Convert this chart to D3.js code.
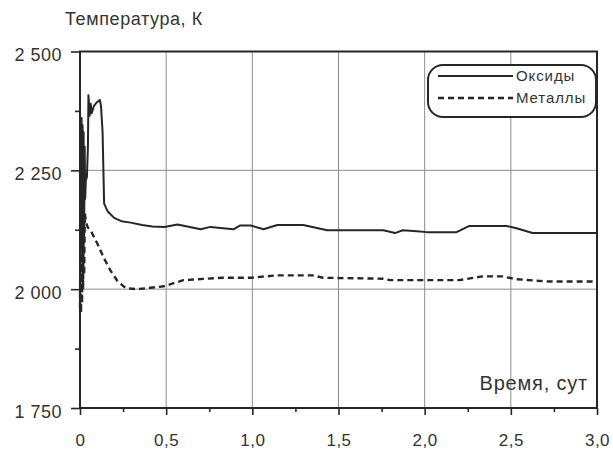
<!DOCTYPE html>
<html>
<head>
<meta charset="utf-8">
<script src="https://cdn.jsdelivr.net/npm/d3@7"></script>
<style>
  html, body { margin: 0; padding: 0; background: #fff; }
  svg { display: block; font-family: "Liberation Sans", Arial, sans-serif; }
</style>
</head>
<body>
<svg id="chart" width="613" height="452"></svg>
<script>
// Time, days
const oxideTime = [0, 0.003, 0.006, 0.009, 0.012, 0.015, 0.018, 0.021, 0.024, 0.027, 0.030, 0.034, 0.040, 0.046, 0.049, 0.056, 0.062, 0.068, 0.080, 0.095, 0.115, 0.122, 0.131, 0.140, 0.160, 0.198, 0.240, 0.295, 0.360, 0.420, 0.490, 0.566, 0.700, 0.757, 0.890, 0.930, 0.990, 1.065, 1.145, 1.295, 1.435, 1.760, 1.828, 1.872, 1.955, 2.012, 2.185, 2.260, 2.475, 2.533, 2.626, 3.000];
// Temperature of oxides, K
const oxideTemp = [2160, 2350, 2120, 2360, 2090, 2345, 2070, 2330, 2110, 2300, 2190, 2230, 2235, 2300, 2408, 2365, 2390, 2370, 2385, 2392, 2398, 2385, 2330, 2180, 2164, 2150, 2143, 2140, 2135, 2132, 2131, 2136, 2126, 2131, 2126, 2134, 2134, 2126, 2135, 2135, 2124, 2124, 2118, 2124, 2122, 2120, 2120, 2133, 2133, 2128, 2118, 2118];

const metalTime = [0, 0.003, 0.006, 0.009, 0.012, 0.015, 0.018, 0.021, 0.024, 0.028, 0.035, 0.045, 0.064, 0.102, 0.139, 0.179, 0.218, 0.266, 0.335, 0.410, 0.486, 0.600, 0.830, 0.990, 1.140, 1.350, 1.410, 1.760, 1.800, 2.200, 2.335, 2.450, 2.530, 2.720, 3.000];
// Temperature of metals, K
const metalTemp = [1960, 2175, 1950, 2170, 1970, 2165, 2000, 2160, 2030, 2160, 2140, 2130, 2122, 2095, 2065, 2038, 2017, 2002, 2000, 2003, 2006, 2019, 2024, 2024, 2029, 2029, 2024, 2022, 2019, 2019, 2027, 2027, 2021, 2016, 2016];

const xTicks = [0, 0.5, 1.0, 1.5, 2.0, 2.5, 3.0];
const xTickLabels = ["0", "0,5", "1,0", "1,5", "2,0", "2,5", "3,0"];
const yTicks = [1750, 2000, 2250, 2500];
const yTickLabels = ["1 750", "2 000", "2 250", "2 500"];
const seriesNames = ["Оксиды", "Металлы"];

const yTitle = "Температура, К";
const xTitle = "Время, сут";

const svg = d3.select("#chart");
const plotL = 80, plotR = 597, plotT = 51.5, plotB = 408;
const ink = "#262626";
const textInk = "#333";

const x = d3.scaleLinear().domain([0, 3]).range([plotL, plotR]);
const y = d3.scaleLinear().domain([1750, 2500]).range([plotB, plotT]);

// Grid
const grid = svg.append("g");
grid.selectAll("line.gx").data(xTicks.slice(1, -1)).join("line")
  .attr("x1", d => x(d)).attr("x2", d => x(d))
  .attr("y1", plotT).attr("y2", plotB)
  .attr("stroke", "#8c8c8c").attr("stroke-width", 1);
grid.selectAll("line.gy").data(yTicks.slice(1, -1)).join("line")
  .attr("x1", plotL).attr("x2", plotR)
  .attr("y1", d => y(d)).attr("y2", d => y(d))
  .attr("stroke", "#8c8c8c").attr("stroke-width", 1);

// Axes
const xAxis = svg.append("g").attr("transform", `translate(0,${plotB})`)
  .call(d3.axisBottom(x).tickValues(xTicks).tickFormat((d, i) => xTickLabels[i]).tickSize(7).tickPadding(19));
const xMinor = svg.append("g").attr("transform", `translate(0,${plotB})`)
  .call(d3.axisBottom(x).tickValues(d3.range(0.25, 3, 0.5)).tickFormat("").tickSize(4));
const yAxis = svg.append("g").attr("transform", `translate(${plotL},0)`)
  .call(d3.axisLeft(y).tickValues(yTicks).tickFormat((d, i) => yTickLabels[i]).tickSize(9).tickPadding(9));
const yMinor = svg.append("g").attr("transform", `translate(${plotL},0)`)
  .call(d3.axisLeft(y).tickValues([1875, 2125, 2375]).tickFormat("").tickSize(5));

[xAxis, xMinor, yAxis, yMinor].forEach(g => {
  g.select(".domain").remove();
  g.selectAll(".tick line").attr("stroke", ink).attr("stroke-width", 1.6);
  g.selectAll(".tick text").attr("fill", textInk).attr("font-size", 18)
    .attr("letter-spacing", 0.5)
    .attr("font-family", "Liberation Sans, Arial, sans-serif");
});
xAxis.selectAll(".tick text").attr("font-size", 17);
yAxis.selectAll(".tick text").attr("dy", "0.5em");

// Frame
svg.append("rect")
  .attr("x", plotL).attr("y", plotT)
  .attr("width", plotR - plotL).attr("height", plotB - plotT)
  .attr("fill", "none").attr("stroke", ink).attr("stroke-width", 2);

// Series
const line = d3.line().x(d => x(d[0])).y(d => y(d[1]));
const oxides = oxideTime.map((t, i) => [t, oxideTemp[i]]);
const metals = metalTime.map((t, i) => [t, metalTemp[i]]);

svg.append("path").datum(metals)
  .attr("d", line).attr("fill", "none")
  .attr("stroke", ink).attr("stroke-width", 2.4)
  .attr("stroke-dasharray", "6,4");
svg.append("path").datum(oxides)
  .attr("d", line).attr("fill", "none")
  .attr("stroke", ink).attr("stroke-width", 2)
  .attr("stroke-linejoin", "round");

// Titles
svg.append("text").attr("x", 65).attr("y", 25)
  .attr("font-size", 18).attr("letter-spacing", 0.6)
  .attr("fill", textInk).text(yTitle);
svg.append("text").attr("x", 588).attr("y", 390)
  .attr("text-anchor", "end").attr("font-size", 20).attr("letter-spacing", 0.8)
  .attr("fill", textInk).text(xTitle);

// Legend
const lg = svg.append("g");
lg.append("rect").attr("x", 428).attr("y", 65).attr("width", 168).attr("height", 52)
  .attr("rx", 15).attr("fill", "#fff").attr("stroke", ink).attr("stroke-width", 2);
const legendRows = [
  { name: seriesNames[0], dash: null, w: 2, yy: 76 },
  { name: seriesNames[1], dash: "6,4", w: 2.4, yy: 98 }
];
legendRows.forEach(r => {
  lg.append("line").attr("x1", 438).attr("x2", 513).attr("y1", r.yy).attr("y2", r.yy)
    .attr("stroke", ink).attr("stroke-width", r.w)
    .attr("stroke-dasharray", r.dash);
  lg.append("text").attr("x", 516).attr("y", r.yy + 5)
    .attr("font-size", 15).attr("letter-spacing", 0.9)
    .attr("fill", textInk).text(r.name);
});
</script>
</body>
</html>
